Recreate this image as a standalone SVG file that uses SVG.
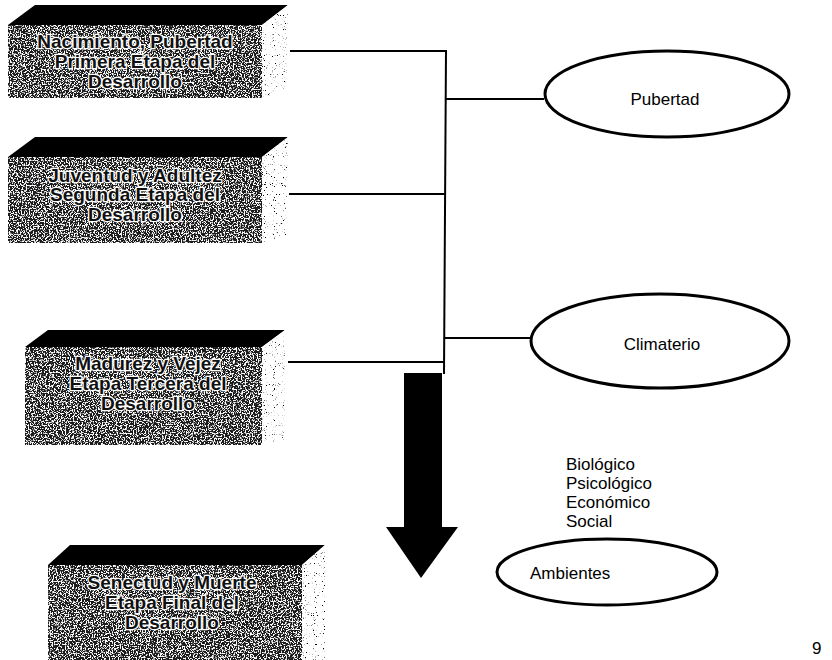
<svg xmlns="http://www.w3.org/2000/svg" width="832" height="660" viewBox="0 0 832 660">
<defs>
  <filter id="speck" x="0" y="0" width="100%" height="100%">
    <feTurbulence type="fractalNoise" baseFrequency="0.75" numOctaves="2" seed="4" result="t"/>
    <feColorMatrix in="t" type="matrix" values="0 0 0 0 1  0 0 0 0 1  0 0 0 0 1  9 0 0 0 -4.5" result="w"/>
    <feComposite in="w" in2="SourceGraphic" operator="in" result="wc"/>
    <feMerge><feMergeNode in="SourceGraphic"/><feMergeNode in="wc"/></feMerge>
  </filter>
  <filter id="dots" x="0" y="0" width="100%" height="100%">
    <feTurbulence type="fractalNoise" baseFrequency="0.9" numOctaves="1" seed="7" result="t"/>
    <feColorMatrix in="t" type="matrix" values="0 0 0 0 0  0 0 0 0 0  0 0 0 0 0  12 0 0 0 -7.6" result="d"/>
    <feComposite in="d" in2="SourceGraphic" operator="in" result="dc"/>
    <feFlood flood-color="#fff" result="wh"/>
    <feComposite in="wh" in2="SourceGraphic" operator="in" result="base"/>
    <feMerge><feMergeNode in="base"/><feMergeNode in="dc"/></feMerge>
  </filter>
</defs>
<style>
  .top { fill: #000; }
  .front { fill: #1a1a1a; filter: url(#speck); }
  .side { fill: #fff; filter: url(#dots); }
  .bt { font-family: "Liberation Sans", Arial, sans-serif; font-weight: bold; font-size: 19px; fill: #111; stroke: #fff; stroke-width: 2.5px; paint-order: stroke; text-anchor: middle; }
  .lbl { font-family: "Liberation Sans", Arial, sans-serif; font-size: 17px; fill: #000; }
  .ell { fill: #fff; stroke: #000; stroke-width: 3; }
  .con { stroke: #000; stroke-width: 2; fill: none; }
</style>

<g id="box1">
  <polygon class="top" points="8,25 35,5 288,5 262,25"/>
  <rect class="front" x="8" y="25" width="254" height="73"/>
  <polygon class="side" points="262,25 288,5 286,90 262,98"/>
  <text class="bt" x="135" y="48">Nacimiento, Pubertad</text>
  <text class="bt" x="135" y="68">Primera Etapa del</text>
  <text class="bt" x="135" y="88">Desarrollo</text>
</g>

<g id="box2">
  <polygon class="top" points="8,157 35,137 288,137 262,157"/>
  <rect class="front" x="8" y="157" width="254" height="86"/>
  <polygon class="side" points="262,157 288,137 286,235 262,243"/>
  <text class="bt" x="135" y="182">Juventud y Adultez</text>
  <text class="bt" x="135" y="201">Segunda Etapa del</text>
  <text class="bt" x="135" y="221">Desarrollo</text>
</g>

<g id="box3">
  <polygon class="top" points="25,347 48,330 285,330 262,347"/>
  <rect class="front" x="25" y="347" width="237" height="98"/>
  <polygon class="side" points="262,347 285,330 284,440 262,445"/>
  <text class="bt" x="148" y="370">Madurez y Vejez</text>
  <text class="bt" x="148" y="390">Etapa Tercera del</text>
  <text class="bt" x="148" y="410">Desarrollo</text>
</g>

<g id="box4">
  <polygon class="top" points="48,565 70,545 325,545 302,565"/>
  <rect class="front" x="48" y="565" width="254" height="95"/>
  <polygon class="side" points="302,565 325,545 325,660 302,660"/>
  <text class="bt" x="172" y="589">Senectud y Muerte</text>
  <text class="bt" x="172" y="609">Etapa Final del</text>
  <text class="bt" x="172" y="629">Desarrollo</text>
</g>

<g id="connectors">
  <polyline class="con" points="290,51 446,51"/>
  <polyline class="con" points="289,194 446,194"/>
  <polyline class="con" points="288,362 444,362"/>
  <polyline class="con" points="446,50 444,374"/>
  <polyline class="con" points="446,99 544,99"/>
  <polyline class="con" points="445,338 531,338"/>
</g>

<g id="arrow">
  <polygon points="404,373 442,373 442,527 458,527 421,578 386,527 404,527" fill="#000"/>
</g>

<g id="pubertad">
  <ellipse class="ell" cx="667" cy="94" rx="122" ry="43"/>
  <text class="lbl" x="665" y="105" text-anchor="middle">Pubertad</text>
</g>

<g id="climaterio">
  <ellipse class="ell" cx="660" cy="341" rx="129" ry="47"/>
  <text class="lbl" x="662" y="350" text-anchor="middle">Climaterio</text>
</g>

<g id="factores">
  <text class="lbl" x="566" y="470">Biológico</text>
  <text class="lbl" x="566" y="489">Psicológico</text>
  <text class="lbl" x="566" y="508">Económico</text>
  <text class="lbl" x="566" y="527">Social</text>
</g>

<g id="ambientes">
  <ellipse class="ell" cx="607" cy="572" rx="110" ry="33"/>
  <text class="lbl" x="530" y="579">Ambientes</text>
</g>

<text class="lbl" x="812" y="654" font-size="14">9</text>
</svg>
